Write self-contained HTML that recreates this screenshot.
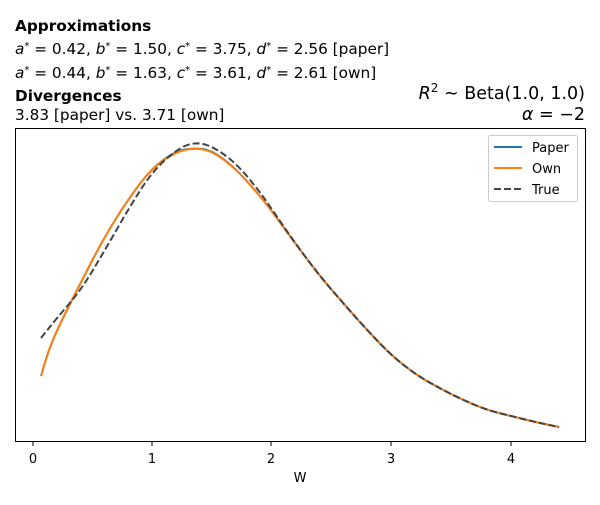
<!DOCTYPE html><html><head><style>body{margin:0;background:#fff}svg{font-family:"DejaVu Sans",sans-serif}</style></head><body>
<svg width="600" height="500" xmlns="http://www.w3.org/2000/svg">
<rect width="600" height="500" fill="#fff"/>
<g font-size="15.3" fill="#000">
<text x="15" y="31" font-weight="bold">Approximations</text>
<text x="15" y="54"><tspan font-style="italic">a</tspan><tspan dy="-5" font-size="10">*</tspan><tspan dy="5"> = 0.42, </tspan><tspan font-style="italic">b</tspan><tspan dy="-5" font-size="10">*</tspan><tspan dy="5"> = 1.50, </tspan><tspan font-style="italic">c</tspan><tspan dy="-5" font-size="10">*</tspan><tspan dy="5"> = 3.75, </tspan><tspan font-style="italic">d</tspan><tspan dy="-5" font-size="10">*</tspan><tspan dy="5"> = 2.56 [paper]</tspan></text>
<text x="15" y="78"><tspan font-style="italic">a</tspan><tspan dy="-5" font-size="10">*</tspan><tspan dy="5"> = 0.44, </tspan><tspan font-style="italic">b</tspan><tspan dy="-5" font-size="10">*</tspan><tspan dy="5"> = 1.63, </tspan><tspan font-style="italic">c</tspan><tspan dy="-5" font-size="10">*</tspan><tspan dy="5"> = 3.61, </tspan><tspan font-style="italic">d</tspan><tspan dy="-5" font-size="10">*</tspan><tspan dy="5"> = 2.61 [own]</tspan></text>
<text x="15" y="101" font-weight="bold">Divergences</text>
<text x="15" y="120">3.83 [paper] vs. 3.71 [own]</text>
<text x="585" y="99" text-anchor="end" font-size="17.5"><tspan font-style="italic">R</tspan><tspan dy="-7" font-size="12">2</tspan><tspan dy="7"> ~  Beta(1.0, 1.0)</tspan></text>
<text x="585" y="120" text-anchor="end" font-size="17.5"><tspan font-style="italic">α</tspan> = −2</text>
</g>
<rect x="15.5" y="128.5" width="570" height="313" fill="none" stroke="#000" stroke-width="1"/>
<g stroke="#000"><line x1="33" y1="441" x2="33" y2="446"/><line x1="152" y1="441" x2="152" y2="446"/><line x1="271" y1="441" x2="271" y2="446"/><line x1="391" y1="441" x2="391" y2="446"/><line x1="511" y1="441" x2="511" y2="446"/></g>
<g font-size="13" text-anchor="middle"><text x="33" y="463">0</text><text x="152" y="463">1</text><text x="271" y="463">2</text><text x="391" y="463">3</text><text x="511" y="463">4</text><text x="300" y="482">W</text></g>
<path fill="none" stroke="#1f77b4" stroke-width="2" d="M41,376 L44.5,364 Q48,352 52.5,341 Q57,330 69,306 Q81,282 93,259 Q105,236 117,217 Q129,198 140.5,183 Q152,168 164,159.5 Q176,151 185,149.5 Q194,148 203,149 Q212,150.5 224,159.5 Q236,168.5 248,182.5 Q260,196 265.5,203 Q271,210 283,226.5 Q295,243 307,259 Q319,275 331,289 Q343,303 355,316.5 Q367,330 379,342.5 Q391,355 403,364.5 Q415,374 427,381 Q439,388 451,394 Q463,400 475,405 Q487,410 499,413 Q511,416 523,419 Q535,422 547,424.5 L559,427"/>
<path fill="none" stroke="#ff7f0e" stroke-width="2" d="M41,376 L44.5,364 Q48,352 52.5,341 Q57,330 69,306 Q81,282 93,259 Q105,236 117,217 Q129,198 140.5,183 Q152,168 164,160 Q176,152 185,150 Q194,148 203,149.5 Q212,151 224,160 Q236,169 248,182.5 Q260,196 265.5,203 Q271,210 283,226.5 Q295,243 307,259 Q319,275 331,289 Q343,303 355,316.5 Q367,330 379,342.5 Q391,355 403,364.5 Q415,374 427,381 Q439,388 451,394 Q463,400 475,405 Q487,410 499,413 Q511,416 523,419 Q535,422 547,424.5 L559,427"/>
<path fill="none" stroke="#444" stroke-width="2" stroke-dasharray="7,3" d="M41,338 L49,328 Q57,318 69,304 Q81,290 93,270 Q105,250 117,229 Q129,208 140.5,190 Q152,172 164,161 Q176,150 185,146 Q194,142 203,144 Q212,146 224,154.5 Q236,163 248,177.5 Q260,192 265.5,200 Q271,208 283,225.5 Q295,243 307,259 Q319,275 331,289 Q343,303 355,316.5 Q367,330 379,342.5 Q391,355 403,364.5 Q415,374 427,381 Q439,388 451,394 Q463,400 475,405 Q487,410 499,413 Q511,416 523,419 Q535,422 547,424.5 L559,427"/>
<rect x="488.5" y="135.5" width="89" height="66" fill="#fff" stroke="#ccc" rx="2"/>
<g stroke-width="2"><line x1="494" y1="147" x2="522" y2="147" stroke="#1f77b4"/><line x1="494" y1="168" x2="522" y2="168" stroke="#ff7f0e"/><line x1="494" y1="189" x2="522" y2="189" stroke="#444" stroke-dasharray="7,3"/></g>
<g font-size="13"><text x="532" y="152">Paper</text><text x="532" y="173">Own</text><text x="532" y="194">True</text></g>
</svg></body></html>
